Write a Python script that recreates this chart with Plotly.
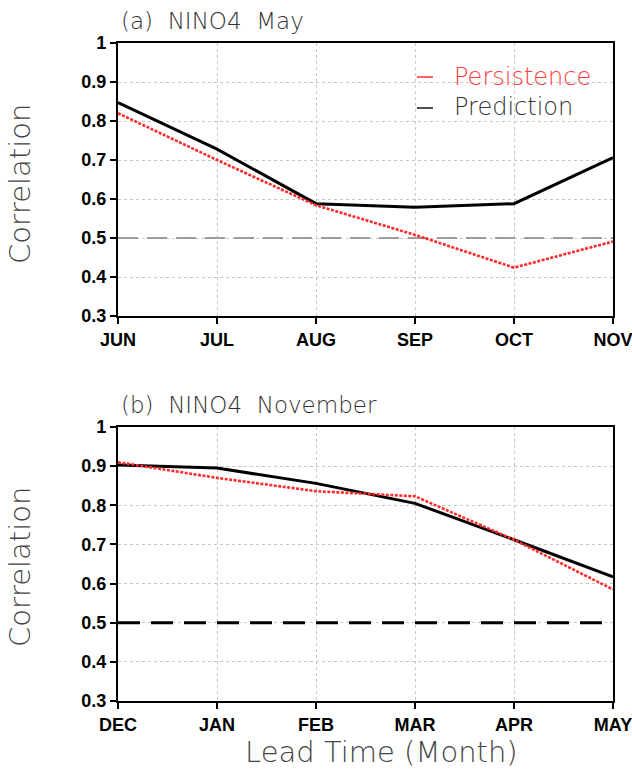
import plotly.graph_objects as go
from plotly.subplots import make_subplots

months_a = ["JUN", "JUL", "AUG", "SEP", "OCT", "NOV"]
months_b = ["DEC", "JAN", "FEB", "MAR", "APR", "MAY"]
pred_a = [0.847, 0.728, 0.588, 0.579, 0.588, 0.706]
pers_a = [0.820, 0.700, 0.584, 0.508, 0.424, 0.491]
pred_b = [0.903, 0.895, 0.856, 0.805, 0.712, 0.617]
pers_b = [0.910, 0.870, 0.836, 0.823, 0.712, 0.585]
y_ticks = [0.3, 0.4, 0.5, 0.6, 0.7, 0.8, 0.9, 1.0]
y_ticktext = ["0.3", "0.4", "0.5", "0.6", "0.7", "0.8", "0.9", "1"]
threshold = 0.5

W, H = 632, 771
ML, MR, MT, MB = 118, 19, 43, 70

fig = make_subplots(rows=2, cols=1, vertical_spacing=0.01)
idx = list(range(6))

for r, (pred, pers) in enumerate([(pred_a, pers_a), (pred_b, pers_b)], start=1):
    fig.add_trace(go.Scatter(x=idx, y=[threshold] * 6, mode="lines",
                             line=dict(color="#808080" if r == 1 else "black",
                                       width=1.3 if r == 1 else 3,
                                       dash="20px,9px" if r == 1 else "22px,11px"),
                             showlegend=False, hoverinfo="skip"), row=r, col=1)
    fig.add_trace(go.Scatter(x=idx, y=pred, mode="lines",
                             line=dict(color="black", width=3),
                             name="Prediction", showlegend=False), row=r, col=1)
    fig.add_trace(go.Scatter(x=idx, y=pers, mode="lines",
                             line=dict(color="#ff2a2a", width=2.6, dash="3px,1.5px"),
                             name="Persistence", showlegend=False), row=r, col=1)

pw = W - ML - MR
ph = H - MT - MB
top_bottom = (H - MB - 316) / ph
bot_top = (H - MB - 427) / ph

tickfont = dict(family="Liberation Sans Narrow, Arial Narrow, Liberation Sans", size=18,
                color="black", weight="bold")

for r, dom, labels in [(1, [top_bottom, 1.0], months_a), (2, [0.0, bot_top], months_b)]:
    xa = "xaxis" if r == 1 else "xaxis2"
    ya = "yaxis" if r == 1 else "yaxis2"
    fig.layout[xa].update(domain=[0, 1], range=[0, 5], tickvals=idx, ticktext=labels,
                          showline=True, linecolor="black", linewidth=2.2, mirror=True,
                          ticks="outside", ticklen=6, tickwidth=2, tickcolor="black",
                          showgrid=True, gridcolor="#c8c8c8", griddash="dot", gridwidth=1,
                          zeroline=False, tickfont=tickfont, ticklabeloverflow="allow",
                          automargin=False)
    fig.layout[ya].update(domain=dom, range=[0.3, 1.0], tickvals=y_ticks, ticktext=y_ticktext,
                          showline=True, linecolor="black", linewidth=2.2, mirror=True,
                          ticks="outside", ticklen=6, tickwidth=2, tickcolor="black",
                          showgrid=True, gridcolor="#c8c8c8", griddash="dot", gridwidth=1,
                          zeroline=False, tickfont=tickfont, automargin=False)

def py(ypix):
    return (H - MB - ypix) / ph

def px(xpix):
    return (xpix - ML) / pw

thin = dict(family="DejaVu Sans", weight=200)
annos = [
    dict(text="(a)  NINO4  May", x=px(119), y=py(21), xanchor="left", yanchor="middle",
         font=dict(size=23, color="#333", **thin)),
    dict(text="(b)  NINO4  November", x=px(119), y=py(405), xanchor="left", yanchor="middle",
         font=dict(size=23, color="#333", **thin)),
    dict(text="Persistence", x=px(452), y=py(77), xanchor="left", yanchor="middle",
         font=dict(size=24, color="#ff3b3b", **thin)),
    dict(text="Prediction", x=px(452), y=py(107), xanchor="left", yanchor="middle",
         font=dict(size=24, color="#333", **thin)),
    dict(text="Correlation", x=px(20), y=py(184), xanchor="center", yanchor="middle",
         textangle=-90, font=dict(size=29, color="#444", **thin)),
    dict(text="Correlation", x=px(20), y=py(567), xanchor="center", yanchor="middle",
         textangle=-90, font=dict(size=29, color="#444", **thin)),
    dict(text="Lead Time (Month)", x=px(381), y=py(752), xanchor="center", yanchor="middle",
         font=dict(size=29, color="#444", **thin)),
]
for a in annos:
    a.update(xref="paper", yref="paper", showarrow=False)
fig.update_layout(annotations=annos)

fig.add_shape(type="line", xref="paper", yref="paper", x0=px(417), x1=px(433),
              y0=py(77), y1=py(77), line=dict(color="#ff3b3b", width=1.6))
fig.add_shape(type="line", xref="paper", yref="paper", x0=px(417), x1=px(433),
              y0=py(108), y1=py(108), line=dict(color="#222", width=1.6))

fig.update_layout(width=W, height=H, margin=dict(l=ML, r=MR, t=MT, b=MB, autoexpand=False),
                  plot_bgcolor="white", paper_bgcolor="white", showlegend=False)

fig.write_html("out.html")
